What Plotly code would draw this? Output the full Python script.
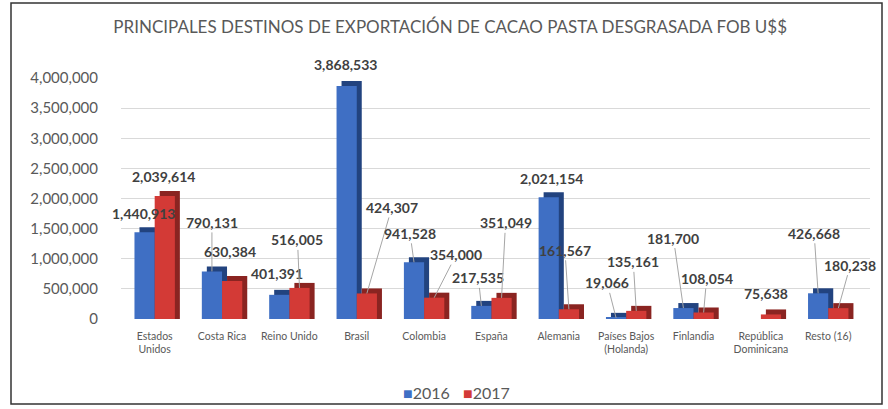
import plotly.graph_objects as go

# ---------------- data ----------------
categories = ["Estados<br>Unidos", "Costa Rica", "Reino Unido", "Brasil", "Colombia", "España",
              "Alemania", "Países Bajos<br>(Holanda)", "Finlandia", "República<br>Dominicana", "Resto (16)"]
values_2016 = [1440913, 790131, 401391, 3868533, 941528, 217535, 2021154, 19066, 181700, 0, 426668]
values_2017 = [2039614, 630384, 516005, 424307, 354000, 351049, 161567, 135161, 108054, 75638, 180238]
y_ticks = [0, 500000, 1000000, 1500000, 2000000, 2500000, 3000000, 3500000, 4000000]
series_names = ["2016", "2017"]
title_text = "PRINCIPALES DESTINOS DE EXPORTACIÓN DE CACAO PASTA DESGRASADA FOB U$$"

# label offsets (pixels from bar top to label centre) and leader-line flags
lab16_ax = [-1, 0, -2, -1, -4, -3, 3, -9, -10, 0, -4]
lab16_ay = [-19, -49, -21, -21, -29, -28, -19, -35, -70, 0, -60]
lead16 = [False, True, False, False, True, True, False, True, True, False, True]
lab17_ax = [-1, -2, -2, 25, 22, 4, -4, -3, 3, -5, 12]
lab17_ay = [-20, -30, -48, -86, -43, -75, -59, -49, -34, -21, -43]
lead17 = [False, False, True, True, True, True, True, True, True, False, True]

# ---------------- layout geometry ----------------
W, H = 888, 409
L, R, T, B = 121, 18, 78, 90
plot_w = W - L - R
plot_h = H - T - B
x_range = [-0.5, 10.62]
y_range = [0, 4000000]
px_per_x = plot_w / (x_range[1] - x_range[0])
px_per_y = plot_h / (y_range[1] - y_range[0])

bar_w = 0.3
depth_px = 5
dx = depth_px / px_per_x
dy = depth_px / px_per_y

blue, blue_side = "#3F6FC4", "#22437F"
red, red_side = "#D33A36", "#8A2421"
font_fam = "Lato, sans-serif"

xs = list(range(len(categories)))


def shadow(vals):
    return [v + dy if v > 0 else None for v in vals]


fig = go.Figure()
fig.add_trace(go.Bar(x=xs, y=shadow(values_2016), width=bar_w, offset=-bar_w + dx,
                     marker=dict(color=blue_side, line=dict(width=0)), showlegend=False, hoverinfo="skip"))
fig.add_trace(go.Bar(x=xs, y=values_2016, width=bar_w, offset=-bar_w, name=series_names[0],
                     marker=dict(color=blue, line=dict(width=0)), showlegend=False))
fig.add_trace(go.Bar(x=xs, y=shadow(values_2017), width=bar_w, offset=dx,
                     marker=dict(color=red_side, line=dict(width=0)), showlegend=False, hoverinfo="skip"))
fig.add_trace(go.Bar(x=xs, y=values_2017, width=bar_w, offset=0, name=series_names[1],
                     marker=dict(color=red, line=dict(width=0)), showlegend=False))


def px_to_paper_x(px):
    return (px - L) / plot_w


def px_to_paper_y(py):
    return (H - B - py) / plot_h


annotations = []
lab_font = dict(family=font_fam, size=14, color="#404040")
for i in xs:
    for vals, axs, ays, leads, off in ((values_2016, lab16_ax, lab16_ay, lead16, -bar_w / 2),
                                       (values_2017, lab17_ax, lab17_ay, lead17, bar_w / 2)):
        v = vals[i]
        if v <= 0:
            continue
        annotations.append(dict(
            x=i + off, y=v, xref="x", yref="y", text=f"<b>{v:,}</b>",
            showarrow=True, ax=axs[i], ay=ays[i], axref="pixel", ayref="pixel",
            xanchor="center", yanchor="middle",
            arrowhead=0, arrowwidth=1,
            arrowcolor="#A6A6A6" if leads[i] else "rgba(0,0,0,0)",
            font=lab_font))

# legend drawn as text items (compact Excel style)
for name, col, left_px in ((series_names[0], blue, 401), (series_names[1], red, 461)):
    annotations.append(dict(x=px_to_paper_x(left_px), y=px_to_paper_y(392), xref="paper", yref="paper",
                            text=f"<span style='color:{col}'>■</span>{name}", showarrow=False,
                            xanchor="left", yanchor="middle",
                            font=dict(family=font_fam, size=16, color="#595959")))

fig.update_layout(
    width=W, height=H,
    margin=dict(l=L, r=R, t=T, b=B),
    paper_bgcolor="white", plot_bgcolor="white",
    barmode="overlay",
    showlegend=False,
    title=dict(text=title_text, x=0.507, xanchor="center", y=1 - 27 / H, yanchor="middle",
               yref="container", font=dict(family=font_fam, size=17, color="#595959")),
    xaxis=dict(range=x_range, tickvals=xs, ticktext=categories, showgrid=False, zeroline=False,
               showline=False, ticks="", tickangle=0, ticklabelstandoff=9,
               tickfont=dict(family=font_fam, size=10.5, color="#595959")),
    yaxis=dict(range=y_range, tickvals=y_ticks, tickformat=",d", showgrid=True, gridcolor="#D9D9D9",
               gridwidth=1, zeroline=False, showline=False, ticks="", ticklabelstandoff=22,
               tickfont=dict(family=font_fam, size=15, color="#595959")),
    annotations=annotations,
    shapes=[dict(type="rect", xref="paper", yref="paper",
                 x0=px_to_paper_x(11), x1=px_to_paper_x(882),
                 y0=px_to_paper_y(404), y1=px_to_paper_y(3),
                 line=dict(color="#333333", width=1.5), fillcolor="rgba(0,0,0,0)", layer="above")],
)

fig.write_html("out.html", config={"displayModeBar": False},
               post_script="document.body.style.margin='0';document.body.style.overflow='hidden';")
